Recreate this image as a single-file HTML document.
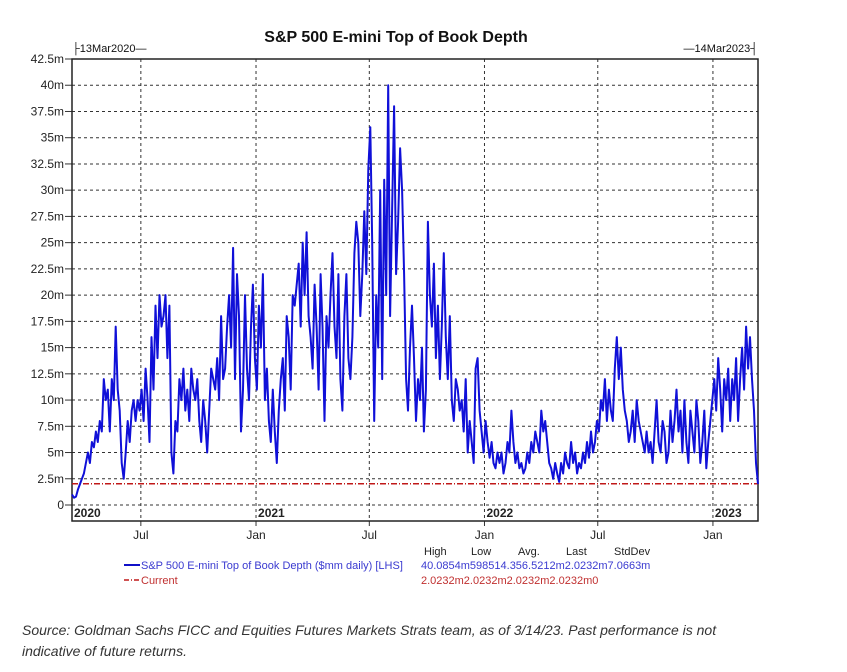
<!DOCTYPE html>
<html><head><meta charset="utf-8"><style>
body{margin:0;background:#fff;width:847px;height:672px;overflow:hidden;font-family:"Liberation Sans",sans-serif}
svg text{font-family:"Liberation Sans",sans-serif}
.src{position:absolute;left:22px;top:620px;font-size:14px;font-style:italic;color:#333;line-height:21px;width:735px}
</style></head><body>
<svg id="chart" width="847" height="672" style="position:absolute;left:0;top:0">
<text x="396" y="42" text-anchor="middle" font-size="16" font-weight="bold" fill="#111">S&amp;P 500 E-mini Top of Book Depth</text>
<text x="72" y="52" font-size="11" fill="#111">├13Mar2020—</text>
<text x="758" y="52" font-size="11" fill="#111" text-anchor="end">—14Mar2023┤</text>
<g id="grid"></g><g id="axes"></g><g id="series"></g>
<g font-size="11">
<line x1="124" y1="565" x2="140" y2="565" stroke="#1010c8" stroke-width="2"/>
<text x="141" y="569" fill="#3a3ad0">S&amp;P 500 E-mini Top of Book Depth ($mm daily) [LHS]</text>
<line x1="124" y1="580" x2="140" y2="580" stroke="#c01818" stroke-width="1.5" stroke-dasharray="5,2,1,2"/>
<text x="141" y="584" fill="#c03030">Current</text>
<g fill="#222"><text x="424" y="555">High</text><text x="471" y="555">Low</text><text x="518" y="555">Avg.</text><text x="566" y="555">Last</text><text x="614" y="555">StdDev</text></g>
<text x="421" y="569" fill="#3a3ad0">40.0854m598514.356.5212m2.0232m7.0663m</text>
<text x="421" y="584" fill="#c03030">2.0232m2.0232m2.0232m2.0232m0</text>
</g>
</svg>
<div class="src">Source: Goldman Sachs FICC and Equities Futures Markets Strats team, as of 3/14/23. Past performance is not indicative of future returns.</div>
<script>
const yTicks=[0,2.5,5,7.5,10,12.5,15,17.5,20,22.5,25,27.5,30,32.5,35,37.5,40,42.5];
const yTickLabels=["0","2.5m","5m","7.5m","10m","12.5m","15m","17.5m","20m","22.5m","25m","27.5m","30m","32.5m","35m","37.5m","40m","42.5m"];
const monthDays=[110,294,475,659,840,1024];
const monthLabels=["Jul","Jan","Jul","Jan","Jul","Jan"];
const yearDays=[0,294,659,1024];
const yearLabels=["2020","2021","2022","2023"];
const totalDays=1096;
const currentValue=2.0232;
const values=[1,0.7,0.8,1.5,2,
2.5,3,4,5,4,6,5.5,7,6,
8,7,12,10,11,7,12,10,17,11,
9,4,2.5,5,8,6,9,10,
8,10,9,11,8,13,10,6,
16,11,19,14,20,17,18,20,14,19,
5,3,8,7,12,10,13,9,11,
8,13,11,10,12,8,6,10,8,5,
9,13,12,11,14,10,18,12,13,17,
20,15,24.5,12,22,18,7,11,20,13,
10,17,21,14,11,19,15,22,10,13,
8,6,11,7,4,9,12,14,9,
18,16,11,20,19,21,23,17,25,20,
26,18,16,13,21,17,11,22,17,
8,18,15,20,24,17,14,22,12,9,
18,22,14,12,16,24,27,25,18,22,
28,22,32,36,25,8,20,15,30,12,
31,20,40,18,28,38,22,27,34,30,
22,12,9,15,19,14,8,12,10,
15,7,11,27,20,17,23,14,19,12,
17,24,16,12,18,10,8,12,11,9,
10,7,12,5,8,6,4,13,14,9,
7,5,8,6,4.5,6,4,3.5,5,4,
5,3,4,6,5,9,6,4,5,
3.5,4,3,3.5,5,4,6,5,7,6,
5,9,7,8,6,4,3.5,2.5,4,3,
2.2,4,3,5,4,3.5,6,4,5,3,
4,3.5,5,4,6,4.5,7,5,
6,8,7,10,9,12,8,11,9,8,
13,16,12,15,11,9,8,6,7,9,
6,10,8,7,6,5,7,5,6,4,
7,10,6,5,8,7,4,5,9,6,
8,11,7,9,5,10,6,4,9,7,
5,10,8,4,6,9,3.5,6,8,10,
12,9,14,11,7,12,10,13,8,12,
10,14,8,12,15,11,17,13,
16,12,9,4,2];
const L=72,R=758,T=59,B=521,Y0=505,YTOP=59;
const xs=d=>L+d/totalDays*(R-L);
const ys=v=>Y0-v/42.5*(Y0-YTOP);
const NS="http://www.w3.org/2000/svg";
function mk(p,tag,a){const e=document.createElementNS(NS,tag);for(const k in a)e.setAttribute(k,a[k]);p.appendChild(e);return e;}
const grid=document.getElementById('grid'),axes=document.getElementById('axes'),ser=document.getElementById('series');
yTicks.forEach((v,i)=>{
  if(v<42.5){const g=mk(grid,'line',{x1:L,x2:R,y1:ys(v),y2:ys(v),stroke:'#333','stroke-dasharray':'3,3','stroke-width':1});
  
  }
  mk(axes,'line',{x1:L-7,x2:L,y1:ys(v),y2:ys(v),stroke:'#333'});
  const t=mk(axes,'text',{x:L-8,y:ys(v)+4,'text-anchor':'end','font-size':12,fill:'#222'});t.textContent=yTickLabels[i];
  
  
});
monthDays.forEach((d,i)=>{
  const g=mk(grid,'line',{x1:xs(d),x2:xs(d),y1:T,y2:B,stroke:'#333','stroke-dasharray':'3,3'});
  
  
  mk(axes,'line',{x1:xs(d),x2:xs(d),y1:B,y2:B+5,stroke:'#333'});
  const t=mk(axes,'text',{x:xs(d),y:B+18,'text-anchor':'middle','font-size':12,fill:'#222'});t.textContent=monthLabels[i];
  
  
});
yearDays.forEach((d,i)=>{
  const t=mk(axes,'text',{x:xs(d)+2,y:B-4,'font-size':12,'font-weight':'bold',fill:'#222'});t.textContent=yearLabels[i];
  
  
});
const fr=mk(axes,'rect',{x:L,y:T,width:R-L,height:B-T,fill:'none',stroke:'#222','stroke-width':1.5});


const cur=mk(ser,'line',{x1:L,x2:R,y1:ys(currentValue),y2:ys(currentValue),stroke:'#c01818','stroke-width':1.5,'stroke-dasharray':'6,2,1,2'});


const n=values.length;
const pts=values.map((v,i)=>xs(i/(n-1)*totalDays).toFixed(1)+','+ys(v).toFixed(1)).join(' ');
const pl=mk(ser,'polyline',{points:pts,fill:'none',stroke:'#1010d8','stroke-width':2,'stroke-linejoin':'round'});


</script>
</body></html>
